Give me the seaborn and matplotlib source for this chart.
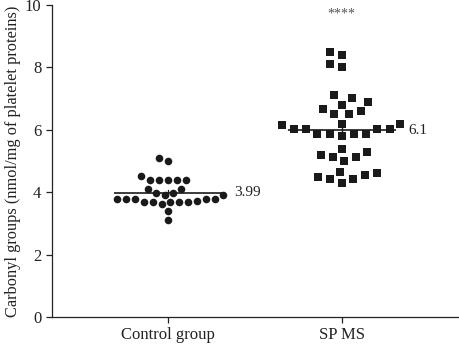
import numpy as np
import pandas as pd
import matplotlib
matplotlib.use("Agg")
import matplotlib.pyplot as plt
import seaborn as sns

GROUPS = ["Control group", "SP MS"]

control_values = [5.00, 5.11,
                  4.39, 4.39, 4.39, 4.39, 4.39, 4.51,
                  4.10, 3.99, 3.90, 4.10, 3.99, 3.90,
                  3.69, 3.69, 3.69, 3.77, 3.78, 3.78, 3.61, 3.78, 3.78, 3.69, 3.69, 3.72,
                  3.40, 3.10]

spms_values = [8.40, 8.50, 8.02, 8.10,
               7.11,
               6.81, 6.90, 7.01,
               6.61, 6.50, 6.50, 6.66,
               6.20, 6.20, 6.15,
               6.02, 6.02, 6.02, 6.02,
               5.88, 5.88, 5.88, 5.88,
               5.80,
               5.40,
               5.29, 5.13, 5.13, 5.19,
               5.00,
               4.65, 4.55, 4.42, 4.28, 4.42, 4.49, 4.60]

MEAN_LABELS = ["3.99", "6.1"]
SIG_LABEL = "****"
Y_TICKS = [0, 2, 4, 6, 8, 10]
Y_LABEL = "Carbonyl groups (nmol/mg of platelet proteins)"

df = pd.DataFrame({
    "group": [GROUPS[0]] * len(control_values) + [GROUPS[1]] * len(spms_values),
    "value": control_values + spms_values,
})

sns.set_theme(style="ticks")
plt.rcParams["font.family"] = ["Liberation Serif", "DejaVu Serif"]

fig = plt.figure(figsize=(4.59, 3.47), dpi=100)
ax = fig.add_axes([0.113, 0.0865, 0.887, 0.899])
ax.set_xlim(-0.665, 1.674)
ax.set_ylim(0, 10)

# GraphPad-style scatter is looser than a tight swarm: lay the swarm out with
# a wide spacing, then redraw the points smaller at those positions
layout = [(GROUPS[0], "o", 6.2, 30), (GROUPS[1], "s", 8.4, 38)]
swarm_colls = []
for g, mk, lay_size, draw_size in layout:
    n0 = len(ax.collections)
    sns.swarmplot(data=df[df.group == g], x="group", y="value", order=GROUPS,
                  marker=mk, size=lay_size, color="#1a1a1a", linewidth=0, ax=ax)
    swarm_colls.append(list(ax.collections[n0:]))
ax.set_xlim(-0.665, 1.674)
ax.set_ylim(0, 10)
fig.canvas.draw()
for colls, (g, mk, lay_size, draw_size) in zip(swarm_colls, layout):
    for coll in colls:
        xy = np.asarray(coll.get_offsets())
        coll.remove()
        if len(xy):
            ax.scatter(xy[:, 0], xy[:, 1], marker=mk, s=draw_size,
                       color="#1a1a1a", linewidths=0, zorder=3)

# mean line + SEM bar
sns.pointplot(data=df, x="group", y="value", order=GROUPS, estimator="mean",
              errorbar="se", linestyle="none", marker="_", markersize=78,
              markeredgewidth=1.2, color="#1a1a1a", err_kws={"linewidth": 1.0},
              capsize=0, ax=ax)

means = df.groupby("group")["value"].mean()
for i, g in enumerate(GROUPS):
    ax.text(i + 0.385, means[g], MEAN_LABELS[i], ha="left", va="center",
            fontsize=11, color="#222222")
ax.text(1, 9.72, SIG_LABEL, ha="center", va="center", fontsize=10, color="#555555")

ax.set_xlim(-0.665, 1.674)
ax.set_ylim(0, 10)
ax.set_yticks(Y_TICKS)
ax.set_xlabel("")
ax.set_ylabel(Y_LABEL, fontsize=11.8, color="#222222", labelpad=3)
ax.tick_params(axis="both", labelsize=12, colors="#222222", length=4, width=0.9)
for s in ["top", "right"]:
    ax.spines[s].set_visible(False)
for s in ["left", "bottom"]:
    ax.spines[s].set_linewidth(0.9)
    ax.spines[s].set_color("#222222")

fig.savefig("out.png", dpi=100)
